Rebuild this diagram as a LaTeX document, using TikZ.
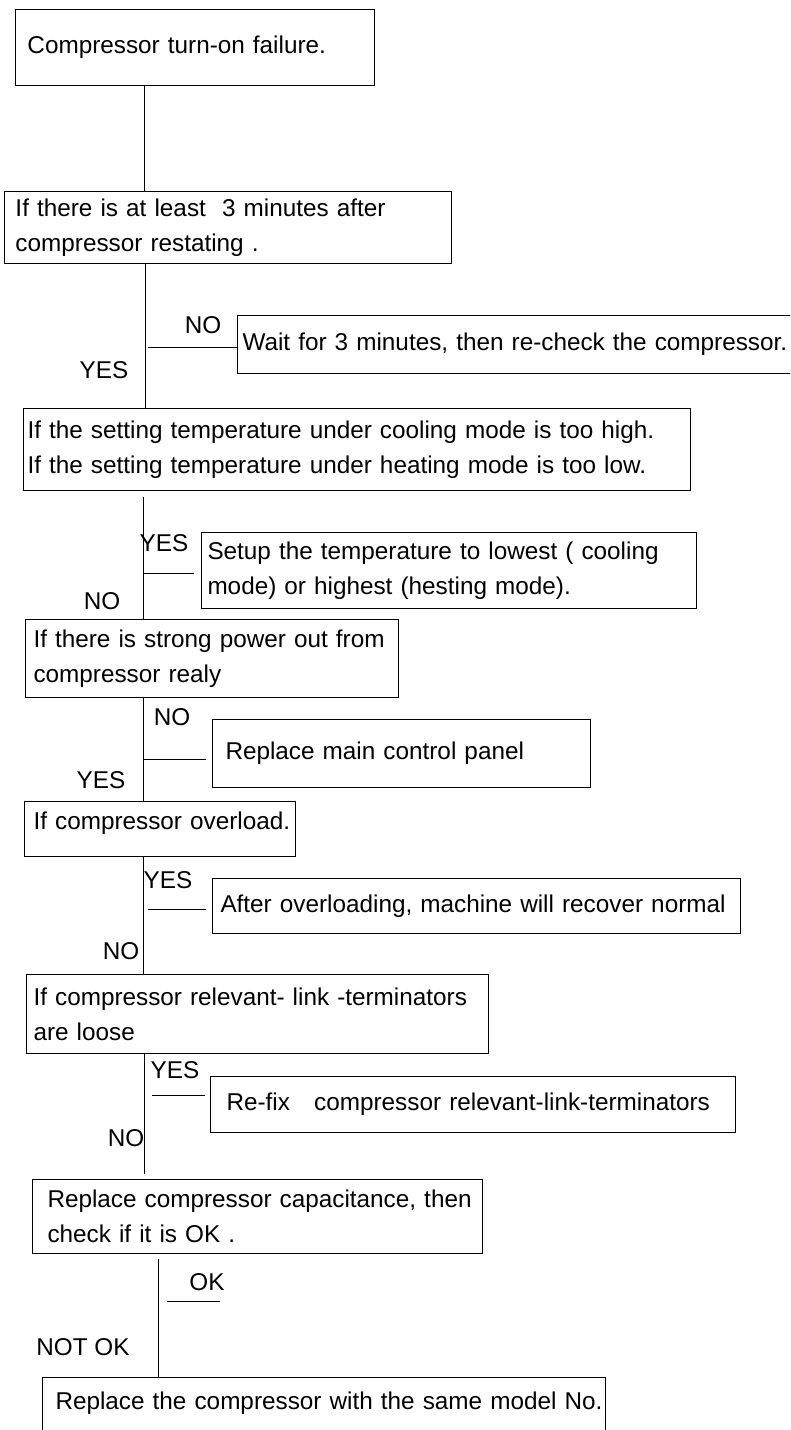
\documentclass[tikz,border=0pt]{standalone}
\usepackage{fontspec}
\setmainfont{Liberation Sans}
\usetikzlibrary{shapes,arrows,positioning}

\begin{document}
\begin{tikzpicture}[x=1pt,y=-1pt]
	\tikzstyle{every node}=[font=\fontsize{24.3}{35}\selectfont]
	\tikzstyle{stepbox}=[draw, line width=1pt, anchor=north west, inner xsep=0pt, align=left]
	\tikzstyle{link}=[line width=1pt]

	\clip (0,0) rectangle (790,1430); % page size, the last box runs off it

	% boxes: text width = box width, \leftskip = gap before the text
	\node[stepbox, text width=359pt, minimum height=76pt,
	execute at begin node={\leftskip=12pt}] (b1) at (15,9) {Compressor turn-on failure.};
	\node[stepbox, text width=447pt, minimum height=72pt,
	execute at begin node={\leftskip=11pt}] (b2) at (4,191) {If there is at least\ \ 3 minutes after\\compressor restating .};
	\node[stepbox, text width=560pt, minimum height=58pt,
	execute at begin node={\leftskip=5pt}] (b3) at (237,315) {Wait for 3 minutes, then re-check the compressor.};
	\node[stepbox, text width=667pt, minimum height=82pt,
	execute at begin node={\leftskip=4pt}] (b4) at (23,408) {If the setting temperature under cooling mode is too high.\\If the setting temperature under heating mode is too low.};
	\node[stepbox, text width=495pt, minimum height=76pt,
	execute at begin node={\leftskip=6pt}] (b5) at (201,532) {Setup the temperature to lowest ( cooling\\mode) or highest (hesting mode).};
	\node[stepbox, text width=373pt, minimum height=78pt,
	execute at begin node={\leftskip=8pt}] (b6) at (25,619) {If there is strong power out from\\compressor realy};
	\node[stepbox, text width=378pt, minimum height=68pt,
	execute at begin node={\leftskip=13pt}] (b7) at (212,719) {Replace main control panel};
	\node[stepbox, text width=271pt, minimum height=55pt, text depth=17pt,
	execute at begin node={\leftskip=9pt}] (b8) at (24,801) {If compressor overload.};
	\node[stepbox, text width=528pt, minimum height=55pt,
	execute at begin node={\leftskip=8pt}] (b9) at (212,878) {After overloading, machine will recover normal};
	\node[stepbox, text width=462pt, minimum height=79pt,
	execute at begin node={\leftskip=7pt}] (b10) at (26,974) {If compressor relevant- link -terminators\\are loose};
	\node[stepbox, text width=525pt, minimum height=56pt,
	execute at begin node={\leftskip=16pt}] (b11) at (210,1076) {Re-fix\ \ \ compressor relevant-link-terminators};
	\node[stepbox, text width=450pt, minimum height=74pt,
	execute at begin node={\leftskip=15pt}] (b12) at (32,1179) {Replace compressor capacitance, then\\check if it is OK .};
	\node[stepbox, draw=none, text width=620pt, minimum height=52pt,
	execute at begin node={\leftskip=13pt}] (b13) at (42,1377) {Replace the compressor with the same model No.};
	\draw[link] ([yshift=-20pt]b13.south west) -- (b13.north west) -- ++(563,0) -- ++(0,80); % open at the bottom

	% answers
	\node (no1) at (203,325) {NO};
	\node (yes1) at (104,370) {YES};
	\node (yes2) at (164,543) {YES};
	\node (no2) at (102,601) {NO};
	\node (no3) at (172,717) {NO};
	\node (yes3) at (101,780) {YES};
	\node (yes4) at (168,880) {YES};
	\node (no4) at (121,951) {NO};
	\node (yes5) at (175,1070) {YES};
	\node (no5) at (126,1138) {NO};
	\node (ok) at (207,1282) {OK};
	\node (notok) at (83,1347) {NOT OK};

	% main line
	\coordinate (k1) at (144,0);
	\coordinate (k2) at (145,0);
	\coordinate (k3) at (143,0);
	\coordinate (k6) at (144,0);
	\coordinate (k7) at (158,0);
	\draw[link] (k1 |- b1.south) -- (k1 |- b2.north);
	\draw[link] (k2 |- b2.south) -- (k2 |- b4.north);
	\draw[link, shorten <=6pt] (k3 |- b4.south) -- (k3 |- b6.north);
	\draw[link] (k3 |- b6.south) -- (k3 |- b8.north);
	\draw[link] (k3 |- b8.south) -- (k3 |- b10.north);
	\draw[link, shorten >=5pt] (k6 |- b10.south) -- (k6 |- b12.north);
	\draw[link, shorten <=5pt] (k7 |- b12.south) -- (k7 |- b13.north);

	% side lines
	\coordinate (s1) at (0,347);
	\coordinate (s2) at (0,573);
	\coordinate (s3) at (0,759);
	\coordinate (s4) at (0,909);
	\coordinate (s5) at (0,1095);
	\coordinate (s6) at (220,1301);
	\draw[link, shorten <=3pt] (k2 |- s1) -- (b3.west |- s1);
	\draw[link, shorten >=7pt] (k3 |- s2) -- (b5.west |- s2);
	\draw[link, shorten >=6pt] (k3 |- s3) -- (b7.west |- s3);
	\draw[link, shorten <=5pt, shorten >=6pt] (k3 |- s4) -- (b9.west |- s4);
	\draw[link, shorten <=8pt, shorten >=5pt] (k6 |- s5) -- (b11.west |- s5);
	\draw[link, shorten <=9pt] (k7 |- s6) -- (s6);
\end{tikzpicture}
\end{document}
